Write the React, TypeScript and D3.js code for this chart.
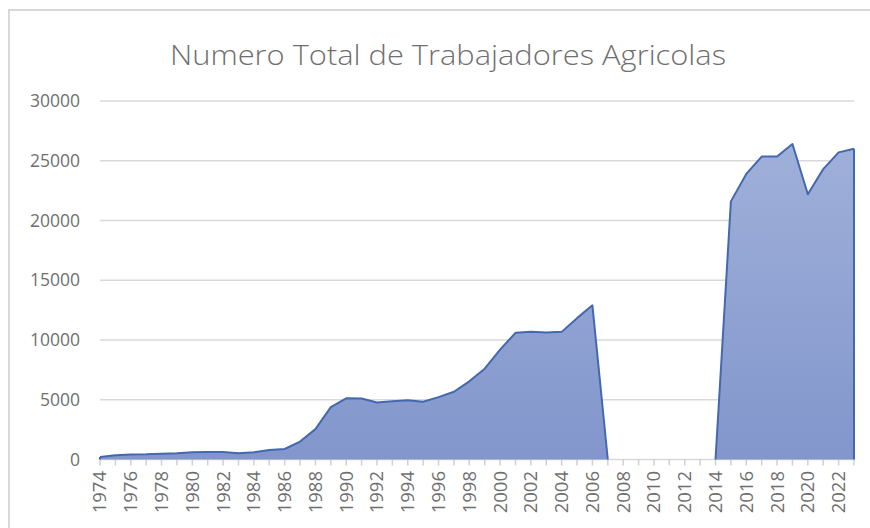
import * as d3 from "d3";

// chart data
const years = d3.range(1974, 2024);
const workers = [
  200, 350, 420, 430, 490, 520, 600, 630, 630, 520,
  600, 800, 880, 1500, 2540, 4380, 5120, 5100, 4770, 4880,
  4950, 4830, 5220, 5670, 6540, 7600, 9200, 10600, 10700, 10630,
  10680, 11830, 12900, 0, 0, 0, 0, 0, 0, 0,
  0, 21600, 23900, 25350, 25350, 26400, 22200, 24300, 25700, 26000,
];
const yTicks = [0, 5000, 10000, 15000, 20000, 25000, 30000];
const title = "Numero Total de Trabajadores Agricolas";

const W = 870;
const H = 528;

type Pt = { yr: number; v: number };

export default function App() {
  const x = d3.scaleLinear().domain([1974, 2023]).range([100, 854]);
  const y = d3.scaleLinear().domain([0, 30000]).range([459.5, 101]);

  const data: Pt[] = years.map((yr, i) => ({ yr, v: workers[i] }));
  const area = d3
    .area<Pt>()
    .x((d) => x(d.yr))
    .y0(y(0))
    .y1((d) => y(d.v));
  const line = d3
    .line<Pt>()
    .x((d) => x(d.yr))
    .y((d) => y(d.v));

  // outline only where the area is not flat on the axis
  const pieces: Pt[][] = [];
  let cur: Pt[] = [];
  data.forEach((d, i) => {
    const prev = data[i - 1];
    if (prev && prev.v === 0 && d.v === 0) {
      if (cur.length > 1) pieces.push(cur);
      cur = [d];
    } else {
      if (cur.length === 0 && prev) cur.push(prev);
      cur.push(d);
    }
  });
  if (cur.length > 1) pieces.push(cur);
  const last = data[data.length - 1];
  const first = data[0];

  const font = "'Open Sans', sans-serif";

  return (
    <div style={{ position: "absolute", left: 0, top: 0 }}>
      <svg width={W} height={H} style={{ display: "block" }}>
        <defs>
          <linearGradient id="fillGrad" x1="0" y1={y(30000)} x2="0" y2={y(0)} gradientUnits="userSpaceOnUse">
            <stop offset="0" stopColor="#a3b3db" />
            <stop offset="1" stopColor="#8296cc" />
          </linearGradient>
        </defs>
        <rect x={0} y={0} width={W} height={H} fill="#fff" />
        {/* chart border */}
        <path d={`M9,${H} V10 H${W}`} fill="none" stroke="#d9d9d9" strokeWidth={2} />

        <text
          x={448}
          y={65}
          textAnchor="middle"
          fontFamily={font}
          fontSize={28}
          fontWeight={300}
          textLength={556}
          lengthAdjust="spacingAndGlyphs"
          fill="#6f6f6f"
        >
          {title}
        </text>

        {/* gridlines + y labels */}
        {yTicks.map((t) => (
          <g key={t}>
            {t > 0 && (
              <line x1={100} x2={854} y1={y(t)} y2={y(t)} stroke="#d9d9d9" strokeWidth={1.5} />
            )}
            <text
              x={80}
              y={y(t)}
              dy="0.35em"
              textAnchor="end"
              fontFamily={font}
              fontSize={17.5}
              fill="#6f6f6f"
            >
              {t}
            </text>
          </g>
        ))}

        {/* x axis */}
        <line x1={100} x2={854} y1={y(0)} y2={y(0)} stroke="#d9d9d9" strokeWidth={1.5} />
        {years.map((yr) => (
          <line key={yr} x1={x(yr)} x2={x(yr)} y1={y(0)} y2={y(0) + 6} stroke="#d0d0d0" strokeWidth={1.5} />
        ))}

        <path d={area(data) ?? ""} fill="url(#fillGrad)" />
        {pieces.map((p, i) => (
          <path key={i} d={line(p) ?? ""} fill="none" stroke="#4468b0" strokeWidth={2} strokeLinejoin="round" />
        ))}
        <line x1={x(last.yr)} x2={x(last.yr)} y1={y(last.v)} y2={y(0)} stroke="#4468b0" strokeWidth={2} />
        <line x1={x(first.yr)} x2={x(first.yr)} y1={y(first.v)} y2={y(0)} stroke="#4468b0" strokeWidth={2} />

        {years
          .filter((yr) => (yr - 1974) % 2 === 0)
          .map((yr) => (
            <text
              key={yr}
              transform={`translate(${x(yr)},471) rotate(-90)`}
              dy="0.35em"
              textAnchor="end"
              fontFamily={font}
              fontSize={18.5}
              fill="#6f6f6f"
            >
              {yr}
            </text>
          ))}
      </svg>
    </div>
  );
}
